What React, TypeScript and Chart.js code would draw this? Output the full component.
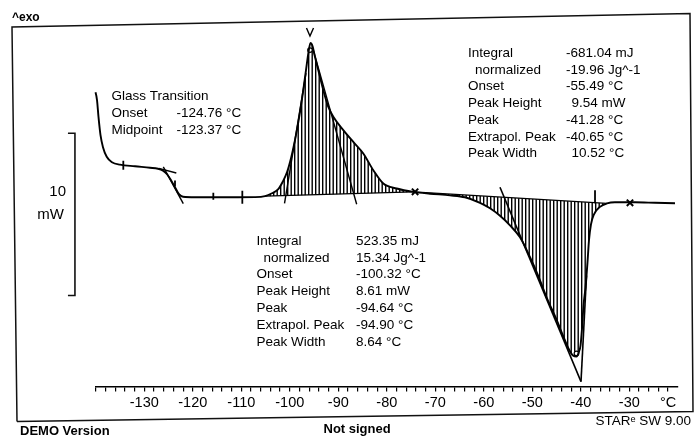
import React, { useEffect, useRef } from 'react';
import { Chart, registerables } from 'chart.js';

Chart.register(...registerables);

// ---------- data (temperature in °C, heat flow in mW relative to baseline) ----------
const curveT = [
  -140.64, -140.06, -139.75, -139.44, -139.03, -138.52, -137.75, -136.66, -135.01, -131.92, -128.82,
  -127.18, -126.14, -125.32, -124.49, -123.67, -122.85, -122.02, -119.55, -112.33, -107.18,
  -105.11, -103.67, -102.43, -101.4, -100.58, -99.75, -98.93, -98.1, -97.28, -96.66, -96.14, -95.73,
  -95.32, -94.8, -94.08, -93.15, -92.12, -91.03, -88.97, -86.91, -84.85, -82.78, -80.72, -77.96, -74.54, -71.09,
  -66.97, -63.88, -60.78, -58.72, -56.66, -54.6, -52.54, -50.47, -48.82, -46.97, -45.11, -43.67, -42.43,
  -41.61, -40.89, -40.37, -40.06, -39.75, -39.44, -39.03, -38.62, -38.31, -37.9, -37.28, -36.04, -34.6, -32.95,
  -28.82, -24.7, -20.58,
];
const curveMW = [
  6.77, 6.48, 5.99, 4.94, 3.83, 3.09, 2.5, 2.16, 2.01, 1.91, 1.82,
  1.76, 1.64, 1.42, 1.05, 0.62, 0.19, 0.03, 0.0, 0.0, 0.01,
  0.07, 0.25, 0.49, 0.99, 1.54, 2.41, 3.52, 4.88, 6.48, 7.84, 8.95, 9.51,
  9.32, 8.64, 7.78, 6.67, 5.62, 4.96, 4.14, 3.41, 2.7, 1.67, 0.85, 0.54, 0.33, 0.22,
  0.12, 0.0, -0.34, -0.68, -1.14, -1.73, -2.47, -3.69, -4.81, -6.23, -7.47, -8.52, -9.38,
  -9.75, -9.81, -9.51, -9.14, -8.09, -6.67, -5.56, -4.01, -2.65, -1.67, -1.05, -0.59, -0.38, -0.31,
  -0.31, -0.34, -0.37,
];

// integration limits of the two hatched peaks
const exoLimits = [-105.11, -74.54];
const endoLimits = [-74.54, -34.6];

// evaluation marks
const tickMarkT = [-134.33, -115.77, -109.79, -123.67, -37.07];
const tickMarkMW = [1.98, 0.06, 0.0, 0.85, 0.03];
const tickMarkSize = [4.5, 3.5, 6.5, 3, 6.5];
const crossMarkT = [-74.17, -29.86];
const crossMarkMW = [0.34, -0.34];
const circleMarkT = [-95.84, -40.89];
const circleMarkMW = [9.07, -9.62];

// tangent / construction lines  [T1, mW1, T2, mW2]
const glassTangent = [-126.08, 1.87, -121.96, -0.39];
const glassPlateau = [-127.0, 1.78, -123.4, 1.5];
const exoLeftTangent = [-101.09, -0.37, -96.66, 7.65];
const exoRightTangent = [-95.15, 9.07, -86.21, -0.43];
const endoLeftTangent = [-56.66, 0.62, -39.96, -11.36];
const endoRightTangent = [-38.82, -4.81, -39.96, -11.36];
const peakMarkT = [-96.56, -95.84, -95.11];
const peakMarkMW = [10.43, 9.94, 10.43];

// axis
const axisMin = -140;
const axisMax = -20;
const yMin = -11.667;
const yMax = 10.926;
const minorStep = 2;
const majorTicks = [-130, -120, -110, -100, -90, -80, -70, -60, -50, -40, -30];
const unitTickT = -22;
const unitLabel = '°C';

// scale bar (10 mW)
const scaleBarT = -144.3;
const scaleBarTop = 3.95;
const scaleBarSpan = 10;
const scaleBarLabel = ['10', 'mW'];

// annotation texts
const glassLabels = ['Glass Transition', 'Onset', 'Midpoint'];
const glassValues = ['', '-124.76 °C', '-123.37 °C'];
const resultLabels = ['Integral', 'normalized', 'Onset', 'Peak Height', 'Peak', 'Extrapol. Peak', 'Peak Width'];
const endoValues = ['-681.04 mJ', '-19.96 Jg^-1', '-55.49 °C', '9.54 mW', '-41.28 °C', '-40.65 °C', '10.52 °C'];
const exoValues = ['523.35 mJ', '15.34 Jg^-1', '-100.32 °C', '8.61 mW', '-94.64 °C', '-94.90 °C', '8.64 °C'];
const exoHeader = '^exo';
const footerLeft = 'DEMO Version';
const footerMid = 'Not signed';
const footerRight = 'STARᵉ SW 9.00';

const FONT = '"Liberation Sans", Arial, Helvetica, sans-serif';

const pts = (xs: number[], ys: number[]) => xs.map((x, i) => ({ x, y: ys[i] }));
const seg = (a: number[]) => [{ x: a[0], y: a[1] }, { x: a[2], y: a[3] }];
const curvePts = pts(curveT, curveMW);
const within = (lim: number[]) => curvePts.filter((p) => p.x >= lim[0] - 1e-9 && p.x <= lim[1] + 1e-9);
const baseOf = (lim: number[]) => {
  const a = curvePts.find((p) => Math.abs(p.x - lim[0]) < 1e-9)!;
  const b = curvePts.find((p) => Math.abs(p.x - lim[1]) < 1e-9)!;
  return [a, b];
};

const tickLabel = (v: number) => {
  if (majorTicks.includes(v)) return String(v);
  if (v === unitTickT) return unitLabel;
  return '';
};

const decorPlugin = {
  id: 'decor',
  afterDraw(chart: any) {
    const ctx: CanvasRenderingContext2D = chart.ctx;
    const xs = chart.scales.x;
    const ys = chart.scales.y;
    ctx.save();
    // frame
    ctx.strokeStyle = '#111';
    ctx.lineWidth = 1.5;
    ctx.beginPath();
    ctx.moveTo(17, 421.5);
    ctx.lineTo(12, 27);
    ctx.lineTo(690, 13.5);
    ctx.lineTo(693, 411.5);
    ctx.lineTo(17, 421.5);
    ctx.stroke();

    // scale bar
    const bx = xs.getPixelForValue(scaleBarT);
    const by1 = ys.getPixelForValue(scaleBarTop);
    const by2 = ys.getPixelForValue(scaleBarTop - scaleBarSpan);
    ctx.lineWidth = 1.6;
    ctx.beginPath();
    ctx.moveTo(bx - 7, by1);
    ctx.lineTo(bx, by1);
    ctx.lineTo(bx, by2);
    ctx.lineTo(bx - 7, by2);
    ctx.stroke();

    ctx.fillStyle = '#000';
    ctx.textBaseline = 'middle';
    ctx.textAlign = 'right';
    ctx.font = `15px ${FONT}`;
    ctx.fillText(scaleBarLabel[0], 66, 192);
    ctx.fillText(scaleBarLabel[1], 64, 215);

    ctx.textAlign = 'left';
    ctx.font = `bold 12px ${FONT}`;
    ctx.fillText(exoHeader, 12, 18);

    ctx.font = `13.5px ${FONT}`;
    // glass transition block
    glassLabels.forEach((t, i) => {
      const y = 96 + i * 17;
      ctx.fillText(t, 111.5, y);
      if (glassValues[i]) ctx.fillText(glassValues[i], 176.5, y);
    });
    // endothermic peak block (upper right)
    resultLabels.forEach((t, i) => {
      const y = 53.3 + i * 16.7;
      ctx.fillText(t, i === 1 ? 475 : 468, y);
      const v = endoValues[i];
      ctx.fillText(v, v.startsWith('-') ? 566 : 571.5, y);
    });
    // exothermic peak block (lower)
    resultLabels.forEach((t, i) => {
      const y = 241 + i * 16.8;
      ctx.fillText(t, i === 1 ? 263.5 : 256.5, y);
      ctx.fillText(exoValues[i], 356, y);
    });

    // footer
    ctx.font = `bold 13px ${FONT}`;
    ctx.fillText(footerLeft, 20, 431);
    ctx.fillText(footerMid, 323.5, 429);
    ctx.font = `13.5px ${FONT}`;
    ctx.textAlign = 'right';
    ctx.fillText(footerRight, 691, 421.5);
    ctx.restore();
  },
};

export default function App() {
  const ref = useRef<HTMLCanvasElement>(null);

  useEffect(() => {
    const canvas = ref.current!;
    const ctx = canvas.getContext('2d')!;
    const pc = document.createElement('canvas');
    pc.width = 7;
    pc.height = 4;
    const pctx = pc.getContext('2d')!;
    pctx.fillStyle = '#000';
    pctx.fillRect(0, 0, 1.4, 4);
    pctx.fillRect(3.5, 0, 1.4, 4);
    const hatch = ctx.createPattern(pc, 'repeat')!;

    const lineDs = (data: any[], width = 1.4) => ({
      data,
      borderColor: '#000',
      borderWidth: width,
      pointRadius: 0,
      fill: false,
      tension: 0,
      clip: false as const,
    });

    const chart = new Chart(ctx, {
      type: 'line',
      data: {
        datasets: [
          {
            data: curvePts,
            borderColor: '#000',
            borderWidth: 1.9,
            pointRadius: 0,
            fill: false,
            cubicInterpolationMode: 'monotone',
            clip: false as const,
          } as any,
          {
            data: pts(tickMarkT, tickMarkMW),
            showLine: false,
            pointStyle: 'line',
            rotation: 90,
            pointRadius: tickMarkSize,
            pointBorderColor: '#000',
            pointBorderWidth: 1.8,
          } as any,
          {
            data: pts(crossMarkT, crossMarkMW),
            showLine: false,
            pointStyle: 'crossRot',
            pointRadius: 4.5,
            pointBorderColor: '#000',
            pointBorderWidth: 2,
          } as any,
          {
            data: pts(circleMarkT, circleMarkMW),
            showLine: false,
            pointStyle: 'circle',
            pointRadius: 2.3,
            pointBackgroundColor: '#fff',
            pointBorderColor: '#000',
            pointBorderWidth: 1.2,
          } as any,
          lineDs(seg(glassTangent)),
          lineDs(seg(glassPlateau)),
          lineDs(seg(exoLeftTangent)),
          lineDs(seg(exoRightTangent)),
          lineDs(seg(endoLeftTangent), 1.6),
          lineDs(seg(endoRightTangent), 1.6),
          lineDs(pts(peakMarkT, peakMarkMW), 1.4),
          {
            data: within(exoLimits),
            borderWidth: 0,
            pointRadius: 0,
            cubicInterpolationMode: 'monotone',
            fill: '+1',
            backgroundColor: hatch,
          } as any,
          lineDs(baseOf(exoLimits), 1.2),
          {
            data: within(endoLimits),
            borderWidth: 0,
            pointRadius: 0,
            cubicInterpolationMode: 'monotone',
            fill: '+1',
            backgroundColor: hatch,
          } as any,
          lineDs(baseOf(endoLimits), 1.2),
        ],
      },
      options: {
        responsive: false,
        animation: false,
        events: [],
        layout: { padding: { left: 95.8, right: 20.2, top: 20, bottom: 26 } },
        plugins: { legend: { display: false }, tooltip: { enabled: false } },
        scales: {
          x: {
            type: 'linear',
            min: axisMin,
            max: axisMax,
            afterBuildTicks: (scale: any) => {
              const t: { value: number }[] = [];
              for (let v = axisMin; v <= unitTickT; v += minorStep) t.push({ value: v });
              scale.ticks = t;
            },
            ticks: {
              autoSkip: false,
              maxRotation: 0,
              minRotation: 0,
              padding: 3,
              color: '#000',
              font: { family: FONT, size: 14.5 },
              callback: (v: any) => tickLabel(Number(v)),
            },
            grid: {
              display: true,
              drawOnChartArea: false,
              drawTicks: true,
              tickLength: 5,
              color: '#000',
              lineWidth: 1.2,
            },
            border: { display: true, color: '#000', width: 1.6 },
          },
          y: { type: 'linear', display: false, min: yMin, max: yMax },
        },
      },
      plugins: [decorPlugin],
    } as any);
    return () => chart.destroy();
  }, []);

  return (
    <div style={{ position: 'absolute', left: 0, top: 0, width: 698, height: 441, background: '#fff' }}>
      <canvas ref={ref} width={698} height={441} style={{ display: 'block', width: 698, height: 441 }} />
    </div>
  );
}
